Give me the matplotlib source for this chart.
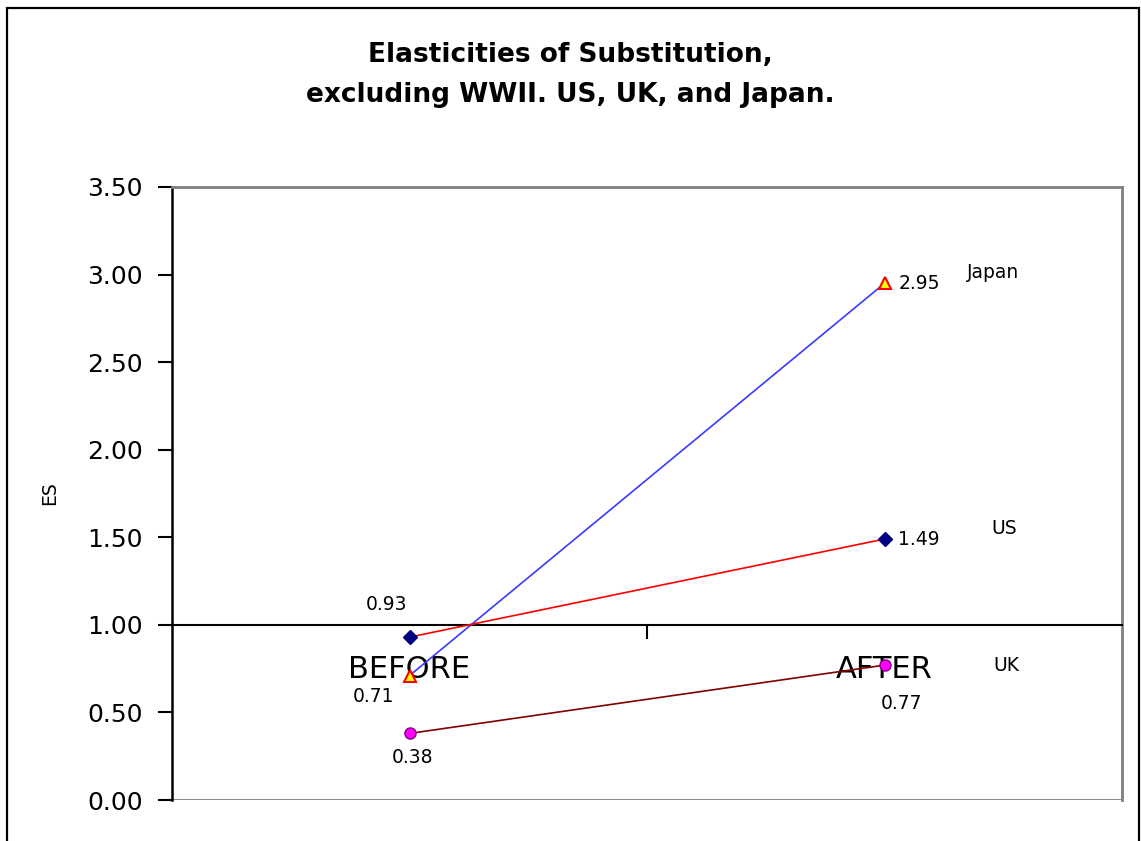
import matplotlib.pyplot as plt
from matplotlib.patches import Rectangle

periods = ["BEFORE", "AFTER"]
countries = ["Japan", "US", "UK"]
es_japan = [0.71, 2.95]
es_us = [0.93, 1.49]
es_uk = [0.38, 0.77]

yticks = [0.0, 0.5, 1.0, 1.5, 2.0, 2.5, 3.0, 3.5]

fig = plt.figure(figsize=(11.41, 8.41), dpi=100)
ax = fig.add_axes([172 / 1141, 41 / 841, 950 / 1141, 613 / 841])

# outer chart border
fig.patches.append(Rectangle((7 / 1141, -0.01), 1132 / 1141, 1 - 8 / 841 + 0.01,
                             transform=fig.transFigure, fill=False,
                             edgecolor="black", linewidth=1.6))

x = list(range(len(periods)))

ax.plot(x, es_japan, color="#3a3aff", lw=1.2, marker="^", ms=9,
        mfc="#ffff00", mec="#ff0000", mew=1.5, zorder=3)
ax.plot(x, es_us, color="#ff0000", lw=1.2, marker="D", ms=7,
        mfc="#000080", mec="#000080", zorder=3)
ax.plot(x, es_uk, color="#800000", lw=1.2, marker="o", ms=8,
        mfc="#ff00ff", mec="#800080", zorder=3)

fs_small = 13.5
# data labels
labels = [
    (0, es_us[0], (-23, 33)),
    (0, es_japan[0], (-36, -21)),
    (0, es_uk[0], (3, -24)),
    (1, es_japan[1], (14, 0)),
    (1, es_us[1], (14, 0)),
    (1, es_uk[1], (17, -38)),
]
for xi, v, off in labels:
    ha = "left" if off[1] == 0 else "center"
    ax.annotate(f"{v:.2f}", (xi, v), xytext=off, textcoords="offset pixels",
                ha=ha, va="center", fontsize=fs_small, zorder=5)

# series names beside the last point
for name, vals, off in zip(countries, [es_japan, es_us, es_uk],
                           [(82, 11), (107, 11), (109, 0)]):
    ax.annotate(name, (1, vals[1]), xytext=off, textcoords="offset pixels",
                ha="left", va="center", fontsize=fs_small, zorder=5)

ax.set_xlim(-0.5, 1.5)
ax.set_ylim(0, 3.5)
ax.set_yticks(yticks)
ax.set_yticklabels([f"{t:.2f}" for t in yticks], fontsize=18)
ax.tick_params(axis="y", direction="out", length=10, width=1.5, pad=11)

# category axis crosses at 1.0
ax.spines["bottom"].set_position(("data", 1.0))
ax.spines["bottom"].set_linewidth(1.5)
ax.spines["left"].set_linewidth(1.8)
for s in ["top", "right"]:
    ax.spines[s].set_color("#808080")
    ax.spines[s].set_linewidth(2)
ax.axhline(0, color="#808080", lw=2, zorder=1)

ax.set_xticks([0.5])
ax.set_xticklabels([""])
ax.tick_params(axis="x", which="major", direction="out", length=10, width=1.5)
ax.set_xticks(x, minor=True)
ax.set_xticklabels(periods, minor=True, fontsize=22)
ax.tick_params(axis="x", which="minor", length=0, pad=22)
for lbl in ax.get_xticklabels(minor=True):
    lbl.set_zorder(6)

ax.set_ylabel("ES", fontsize=fs_small, labelpad=20)

fig.text(0.5, 1 - 75 / 841,
         "Elasticities of Substitution,\nexcluding WWII. US, UK, and Japan.",
         ha="center", va="center", fontsize=19, fontweight="bold",
         family="DejaVu Sans", linespacing=1.75)

fig.savefig("out.png", dpi=100)
